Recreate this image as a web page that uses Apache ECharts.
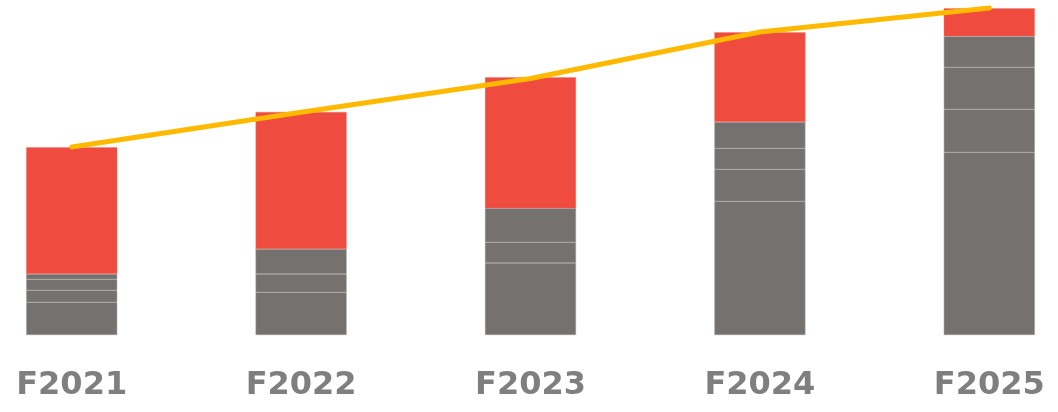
<!DOCTYPE html>
<html>
<head>
<meta charset="utf-8">
<script src="https://cdn.jsdelivr.net/npm/echarts@6/dist/echarts.min.js"></script>
<style>
html,body{margin:0;padding:0;background:#fff;}
#chart{width:1058px;height:412px;}
</style>
</head>
<body>
<div id="chart"></div>
<script>
var categories = ['F2021', 'F2022', 'F2023', 'F2024', 'F2025'];
var grey1 = [32.7, 42.7, 72, 133.7, 182.7];
var grey2 = [12, 18.3, 20.7, 32, 43];
var grey3 = [11, 25, 34, 21, 42];
var grey4 = [5.3, 0, 0, 26.3, 31];
var redTop = [126.7, 137, 131, 89.7, 28];
var trendLine = [188, 222.7, 256.5, 303, 327];

var chart = echarts.init(document.getElementById('chart'), null, {renderer: 'canvas'});
var greyStyle = {color: '#75716F', borderColor: '#a09c9b', borderWidth: 0.5};
function greySeries(d) {
  return {type: 'bar', stack: 'total', data: d, barWidth: 91, itemStyle: greyStyle, silent: true};
}
chart.setOption({
  animation: false,
  grid: {left: -43, width: 1147, top: 0, bottom: 77, containLabel: false, outerBoundsMode: 'none'},
  xAxis: {
    type: 'category',
    data: categories,
    axisLine: {show: false},
    axisTick: {show: false},
    axisLabel: {
      color: '#7F7F7F', fontSize: 32, fontWeight: 'bold',
      fontFamily: 'DejaVu Sans', margin: 35
    }
  },
  yAxis: {
    type: 'value', min: 0, max: 335,
    show: false, splitLine: {show: false}
  },
  series: [
    greySeries(grey1),
    greySeries(grey2),
    greySeries(grey3),
    greySeries(grey4),
    {type: 'bar', stack: 'total', data: redTop, barWidth: 91,
     itemStyle: {color: '#EF4B3E', borderColor: '#f07a70', borderWidth: 0.4}, silent: true},
    {type: 'line', data: trendLine, symbol: 'none', z: 10,
     lineStyle: {color: '#FFBA00', width: 5, cap: 'round', join: 'round'}}
  ]
});
</script>
</body>
</html>
